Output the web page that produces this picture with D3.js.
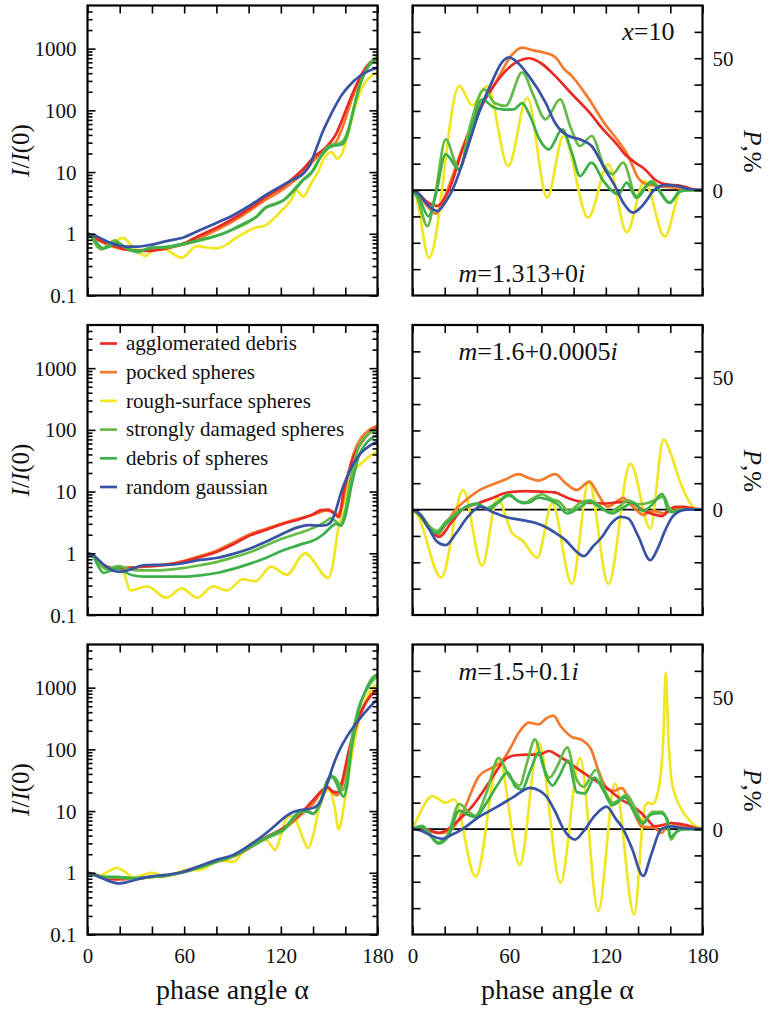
<!DOCTYPE html>
<html>
<head>
<meta charset="utf-8">
<script src="https://cdn.jsdelivr.net/npm/d3@7"></script>
<style>
  html, body { margin: 0; padding: 0; background: #fff; }
  svg { display: block; }
  text { font-family: "Liberation Serif", "Times New Roman", serif; fill: #111; }
</style>
</head>
<body>
<svg id="chart" width="769" height="1010"></svg>
<script>
// ---- data -------------------------------------------------------------
const seriesNames = ["agglomerated debris", "pocked spheres", "rough-surface spheres",
                     "strongly damaged spheres", "debris of spheres", "random gaussian"];
const seriesColors = ["#ec2a24", "#f47a2c", "#f0e624", "#66bb46", "#3eb04a", "#3853a3"];
const angleTicks = [0, 20, 40, 60, 80, 100, 120, 140, 160, 180];
const angleLabels = [0, 60, 120, 180];
const intensityLabels = [0.1, 1, 10, 100, 1000];
const polarizationTicks = [-30, -20, -10, 0, 10, 20, 30, 40, 50, 60];
const polarizationLabels = [0, 50];
const rowLabels = [
  [["m", true], ["=1.313+0", false], ["i", true]],
  [["m", true], ["=1.6+0.0005", false], ["i", true]],
  [["m", true], ["=1.5+0.1", false], ["i", true]]
];

// intensity I/I(0) vs phase angle, series order as in seriesNames
const intensityRow1 = [
  [[0,1],[7,0.8],[14,0.67],[21,0.58],[28.5,0.54],[39,0.53],[49,0.58],[60,0.7],[70,0.95],[80,1.25],[90.5,1.75],[101,2.6],[111,4.0],[121.5,5.9],[132,10],[142,19],[148,25],[154,40],[160,95],[165,200],[170,380],[175,580],[180,700]],
  [[0,1],[7,0.78],[14,0.64],[21,0.57],[28.5,0.54],[39,0.55],[49,0.6],[60,0.67],[70,0.86],[80,1.15],[90.5,1.6],[101,2.4],[111,3.6],[121.5,5.3],[132,8.8],[142,17],[148,24],[154,30],[159,60],[164,150],[170,350],[175,560],[180,650]],
  [[0,1],[4,0.95],[8,0.8],[14,0.7],[22,0.86],[28,0.62],[35.8,0.44],[43,0.59],[49,0.55],[58.5,0.41],[67.8,0.63],[74,0.6],[80,0.58],[86,0.66],[91,0.82],[98,1.05],[104,1.25],[110,1.35],[115,1.7],[120,2.3],[126,3.4],[130,5],[134,4],[138,6],[143,10],[147,17],[151.5,21],[155,16.5],[158,20],[161,35],[165,90],[170,220],[175,340],[180,420]],
  [[0,1],[3,0.85],[6,0.62],[9,0.56],[13,0.68],[17,0.78],[21,0.66],[26,0.55],[31,0.5],[36,0.56],[41,0.6],[47,0.6],[53,0.62],[60,0.68],[68,0.76],[76,0.86],[84,1.0],[91,1.2],[98,1.45],[104,1.8],[110,2.6],[115,2.9],[121,3.4],[127,4.8],[133,7.2],[138,9],[143,15],[148,24],[152,28],[156,29],[159,33],[162,50],[166,130],[170,300],[175,560],[180,760]],
  [[0,1],[3,0.88],[6,0.7],[10,0.58],[14,0.63],[18,0.72],[23,0.62],[28,0.54],[33,0.53],[38,0.58],[44,0.6],[50,0.62],[56,0.66],[63,0.72],[70,0.8],[78,0.9],[86,1.05],[93,1.3],[100,1.6],[106,2.0],[111,2.7],[117,3.1],[123,3.7],[129,5.3],[135,8],[140,10.5],[145,18],[150,25],[154,27],[158,28],[161,38],[165,100],[169,260],[174,500],[180,680]],
  [[0,1],[5,0.93],[10,0.8],[15,0.7],[20,0.64],[25,0.62],[31,0.62],[39,0.66],[49,0.76],[60,0.88],[70,1.15],[80,1.5],[90.5,2.0],[101,2.9],[111,4.3],[121.5,6.2],[128,7.6],[134,9.5],[138,13],[142,24],[146,45],[150,75],[154,120],[158,180],[163,260],[169,360],[175,440],[180,490]]
];
const intensityRow2 = [
  [[0,1],[4,0.9],[8,0.69],[12,0.6],[16,0.57],[22,0.57],[32,0.6],[42,0.63],[50,0.66],[59.5,0.73],[70,0.87],[80,1.05],[90.5,1.4],[101,1.95],[111,2.4],[121.5,3.0],[132,3.6],[140,4.3],[145,5.0],[149.5,5.1],[153,4.4],[156,3.9],[159,10],[162,20],[165,36],[170,62],[175,90],[180,108]],
  [[0,1],[4,0.9],[8,0.7],[12,0.61],[16,0.58],[22,0.58],[32,0.6],[42,0.62],[50,0.66],[59.5,0.75],[70,0.9],[80,1.1],[90.5,1.5],[101,2.05],[111,2.5],[121.5,3.1],[132,3.7],[140,4.2],[144,4.6],[148,4.9],[152,4.8],[155,4.3],[158,6],[161,15],[165,40],[170,75],[175,100],[180,118]],
  [[0,1],[4,0.9],[8,0.73],[12,0.6],[16,0.58],[20,0.62],[23,0.45],[26.5,0.25],[37,0.29],[49,0.19],[58.5,0.27],[68,0.19],[78,0.29],[86.4,0.25],[96.7,0.38],[104,0.35],[114,0.61],[123.6,0.45],[135,1.0],[149.4,0.4],[152,0.6],[155,2],[158,5],[162,13],[166,22],[172,32],[180,45]],
  [[0,1],[4,0.88],[8,0.65],[12,0.55],[16,0.6],[20,0.62],[25,0.56],[30,0.53],[40,0.53],[49,0.54],[60,0.58],[70,0.64],[80,0.72],[90.5,0.86],[101,1.05],[111,1.35],[121.5,1.75],[132,2.15],[142,2.7],[148,3.3],[151,3.7],[154,3.3],[157,2.9],[160,5],[164,20],[168,50],[174,85],[180,100]],
  [[0,1],[4,0.85],[7,0.6],[10,0.48],[14,0.52],[18,0.57],[23,0.5],[28,0.44],[35,0.42],[45,0.42],[59.5,0.42],[70,0.44],[80,0.48],[90.5,0.56],[101,0.68],[111,0.85],[121.5,1.12],[132,1.38],[142,1.7],[147,2.1],[150,2.5],[154,3.0],[157.5,2.8],[160,4],[164,13],[168,35],[174,65],[180,82]],
  [[0,1],[4,0.92],[8,0.73],[12,0.6],[16,0.52],[20,0.5],[24,0.52],[28.5,0.57],[34.7,0.64],[42,0.65],[49,0.65],[59.5,0.69],[70,0.78],[80,0.84],[90.5,0.98],[101,1.2],[111,1.55],[121.5,2.1],[132,2.7],[138,2.85],[144,2.8],[148,2.85],[151,3.2],[154,4.8],[157,9],[161,17],[165,28],[170,43],[175,55],[180,65]]
];
const intensityRow3 = [
  [[0,1],[5,0.92],[10,0.84],[18,0.78],[28.5,0.8],[39,0.85],[49,0.9],[60,1.05],[70,1.27],[80,1.52],[90.5,1.85],[101,2.6],[111,3.8],[121.5,5.3],[132,9],[140,15],[146,22],[149,24],[152,21],[155,20],[158,30],[162,90],[166,220],[171,480],[176,750],[180,900]],
  [[0,1],[5,0.92],[10,0.84],[18,0.8],[28.5,0.8],[39,0.85],[49,0.9],[60,1.04],[70,1.25],[80,1.5],[90.5,1.83],[101,2.55],[111,3.7],[121.5,5.0],[132,8.5],[140,13],[146,22],[149,25],[152,20],[155,18],[158,25],[162,70],[166,200],[171,450],[176,780],[180,950]],
  [[0,1],[4,0.95],[8,0.9],[13,1.05],[18,1.2],[23,1.05],[28.5,0.84],[34,0.92],[40,1.0],[49,0.88],[55,0.98],[61.6,1.12],[67,1.1],[72,1.15],[77,1.4],[81,1.6],[86,1.55],[90.5,1.5],[96,2.1],[101,2.9],[106,3.4],[111,3.4],[116.4,2.35],[120,4],[123.6,7.8],[127,8.3],[130,6.5],[134,3.5],[137,2.5],[140,4],[144,12],[148,21],[150,22],[153,13],[156,5],[158,8],[161,25],[165,110],[170,400],[175,850],[180,1150]],
  [[0,1],[5,0.9],[10,0.85],[18,0.84],[28.5,0.8],[39,0.85],[49,0.9],[60,1.02],[70,1.22],[80,1.5],[90.5,1.85],[101,2.6],[111,3.6],[117,4.2],[121.5,4.8],[127,7],[132,9.5],[136,10.2],[140,9.2],[144,12],[148,25],[151,35],[153,36],[156,28],[158.5,22],[161,35],[164,150],[168,450],[173,900],[177,1300],[180,1500]],
  [[0,1],[5,0.9],[10,0.86],[18,0.86],[28.5,0.82],[39,0.86],[49,0.9],[60,1.03],[70,1.24],[80,1.52],[90.5,1.88],[101,2.65],[111,3.7],[117,4.5],[121.5,5.0],[127,7.4],[132,9.8],[136,9.8],[140,9.0],[144,13],[148,28],[151,38],[154,30],[157,20],[159,17],[161,25],[164,110],[168,400],[173,950],[177,1450],[180,1650]],
  [[0,1],[4,0.95],[8,0.84],[12,0.76],[16,0.7],[19.5,0.67],[24,0.7],[28.5,0.75],[34,0.82],[39,0.87],[49,0.93],[60,1.05],[70,1.3],[80,1.62],[90.5,1.95],[101,2.85],[111,4.4],[117,6],[121.5,7.6],[127,9.5],[132,10.4],[137,10.8],[141,11.5],[145,15],[148,24],[151,42],[154,70],[157,105],[161,160],[165,230],[170,340],[175,480],[180,650]]
];

// degree of linear polarization P, % vs phase angle
const polarizationRow1 = [
  [[0,0],[4,-1.5],[9,-4.5],[15.5,-6],[19,-4],[22.7,0],[31,15.4],[41.3,30],[51,40],[60,46.5],[66,49],[72,50],[80,48],[88.5,43.3],[98,37],[109,30],[119,22.5],[126,18],[132,13.5],[138,10.5],[144,8],[150.4,4],[155,2.5],[160,2],[165,1.8],[170,1],[175,0.2],[180,0]],
  [[0,0],[4,-2],[9,-6],[14.5,-9],[18,-5.5],[21.7,0],[31,16],[41,30.6],[51.6,40.8],[62,51.5],[68,54],[75,53],[82.6,52],[88.8,50.3],[94,46],[98.8,43.3],[109,35],[119.5,25],[127.7,18.6],[133.9,12.9],[140,4.7],[144,2.5],[152.5,1.5],[162.8,0.9],[175,0],[180,0]],
  [[0,0],[2,-2],[10.3,-25.7],[29,39.5],[37,32.2],[46.4,39.5],[59.4,9.1],[71.2,35],[83.6,-2.9],[93.7,20.5],[109,-10.5],[121.5,9.7],[133,-16],[144,3.4],[156.6,-17.7],[167,0],[180,0]],
  [[0,0],[3,-3],[9.3,-13.7],[14,-2],[20.6,19.2],[28.9,7.8],[36,25],[44.4,38.2],[51,33],[57.8,31.9],[68.1,44.6],[75,36],[82.6,26.8],[91.6,34.4],[98,24],[104,16.7],[111.2,20.5],[119,9],[124,6],[130.8,10.4],[139,-2.3],[148.4,3.4],[159.7,-4.8],[166,-0.5],[172,0],[180,0]],
  [[0,0],[4,-3],[10,-10],[14,-3],[20.6,13.5],[28.9,7.8],[36,22],[43.3,34.4],[50,31.5],[57,30.5],[63,30.6],[68,33],[73,28],[79,19],[84.6,15.4],[93,23],[99,14],[104,5.3],[111,10.4],[119,3],[127.7,-1.6],[132.9,2.8],[139,-3],[148,2.8],[159.7,-4.8],[166,-0.5],[172,0],[180,0]],
  [[0,0],[4,-1.5],[10,-6],[15.5,-8],[20,-5],[24.8,0],[32,12],[41.3,29.4],[50,42],[55,48],[59.9,50.3],[65,48.5],[72.2,43.3],[82.6,33.2],[88.5,25.5],[93,22],[97,20.5],[105,19],[111.2,16.7],[119.5,7.8],[125.7,1.5],[131,-5],[137,-8.6],[141,-7],[144,-5],[150,0],[156.6,1.9],[164.9,1.5],[172,0.3],[180,0]]
];
const polarizationRow2 = [
  [[0,0],[5,-2.5],[10,-7],[16.5,-10.4],[24,-5],[31,0],[41.3,2.5],[50,4.5],[56,6],[62,6.7],[70,7],[80,6.8],[88,6.5],[96,4.5],[104,3],[112,2.5],[120,2.3],[128,2.8],[134,3],[138,2],[142.4,0],[148,-1.5],[155,-2.5],[158,-1],[163,1],[168,1],[175,0.3],[180,0]],
  [[0,0],[5,-2],[10,-6],[15.5,-9.7],[20,-6],[26.8,0],[34,4],[41.3,7.3],[51.6,10],[58,11.5],[65.8,13.4],[72,12],[78.2,11],[88.5,13.4],[95,10],[102,7.4],[109.8,10.6],[115,6],[121,1.1],[130.8,4.3],[137,1],[143.2,-2],[149,-0.5],[155.6,-1.4],[162,0.5],[170,0.2],[180,0]],
  [[0,0],[3,-2],[17.8,-25.8],[31.4,7.4],[43.2,-21.3],[52.6,4.2],[62,-9],[68,-11.6],[77.4,-18.2],[86.7,2.3],[98.9,-28.2],[109.4,10.5],[121.6,-28.2],[135.2,17.4],[147.6,-7.2],[155.8,26.5],[161,20],[165,12.4],[170,5],[175.4,0.4],[180,0]],
  [[0,0],[5,-2],[10,-6],[15.5,-8.1],[20,-5],[26.8,-1.5],[33,1],[40,2],[46,0.5],[52,2.5],[59.9,5.8],[65,3.5],[69,2.3],[74,4],[80.5,5.8],[86,4],[91,3],[97,-0.5],[104,2.5],[110,3.5],[116,1.5],[122,-1],[128,1],[134,3.5],[140,2],[146,2.5],[152,4],[156,5],[159,1],[162,-0.5],[167,0],[180,0]],
  [[0,0],[5,-2.5],[10,-7],[15.5,-9],[20,-6],[27,-2],[33,1],[40,2.3],[47,0],[53,2.5],[60,5.4],[66,3],[72,2.5],[78,4.5],[84,3.8],[90,2],[96,-1.5],[103,0.5],[110,3],[117,0.5],[124,-1.5],[130,0.5],[137,2.5],[143,-0.5],[149,2],[155,6],[158.5,0],[161,-1],[165,-0.3],[170,0],[180,0]],
  [[0,0],[5,-2],[10,-7],[15,-12],[20.6,-13.5],[27,-9],[34,-3],[42.1,1.1],[50,-1],[57.8,-2.8],[68,-4],[76,-5],[82.6,-6.6],[89,-9],[95,-11.6],[101,-15.5],[106.3,-17.7],[112,-14],[117.6,-10.4],[123,-5.5],[129,-2.8],[134,-3.4],[140,-10],[147.6,-19.2],[152,-15],[156.9,-7.8],[161,-3],[165,-0.9],[170,0],[180,0]]
];
const polarizationRow3 = [
  [[0,0],[5,0.3],[10,-0.5],[16.5,-1.4],[22,0],[26.8,2.4],[37.2,8.7],[47.5,17.6],[57.8,26.5],[64,28],[72,28.2],[78.4,28.2],[84.6,29.6],[90.8,27.7],[94.7,26.2],[105,21.8],[112,19],[119.5,16.1],[129.8,11.1],[136,9],[142.2,6],[146,3.5],[150.4,1],[155,1.5],[160.7,2.3],[169,1.6],[176,0.4],[180,0]],
  [[0,0],[5,0.5],[10,-0.5],[16.5,-1.6],[23.7,-0.5],[31,6.2],[41.3,20.1],[49.5,23.3],[55.7,25.8],[61,31],[66,36.6],[72.2,40.4],[78.4,39.7],[83,42],[87.5,43],[92,39],[98.8,35],[105,33.8],[111,30],[115.3,22.4],[121.5,14.9],[125,14.5],[129.8,15.5],[136,8.6],[142.2,1],[150.4,0.4],[154.5,-1.5],[159.7,2.3],[164.9,1.6],[172,0.3],[180,0]],
  [[0,0],[3,4],[12.4,12.5],[20.6,10],[25.8,11.3],[39.2,-18.1],[53.7,26.5],[66.5,-13.7],[78.4,32.8],[91.8,-20.4],[104,26.9],[115.3,-31.1],[125.7,17.2],[137.6,-32.4],[144.2,8.6],[146.5,10],[149,9.5],[151.5,12],[153.5,18],[155.5,32],[157.2,59.3],[158.8,35],[160.5,20],[163,13],[166,8.5],[171,4],[176,1],[180,0]],
  [[0,0],[6,1.2],[11,-2],[16,-5],[22,-2],[29,9.5],[34,7],[39,5],[46,14],[53.5,27],[60,20],[66.5,16.5],[71,25],[76,34],[81,24],[85,19.5],[90,24],[96,31],[101,20],[106,16],[114,22.5],[119,15],[124.5,10],[133,13],[138,8],[143,2.5],[149,6.5],[155,6.5],[158,3],[160.5,-4],[164,-1],[168,0],[180,0]],
  [[0,0],[6,0.8],[11,-2.5],[16,-5.5],[22,-3],[29,7],[34,5.5],[39,4.5],[46,10],[53,17],[59,21.5],[64,16],[68,15],[73,22],[78.5,29],[83,20],[87,16.5],[91,20],[96.5,26],[102,14],[107,13.5],[113,19.5],[119,14],[124,9],[132,12],[137,7],[143,2],[148,5.5],[154,6],[158,4],[160,-3],[164,-1],[168,0],[180,0]],
  [[0,0],[5,-0.5],[10,-2],[18.6,-3.7],[25,-2],[31,0],[41,4.5],[51.6,8.1],[62,11.9],[73,15.6],[79,14.5],[83,12.5],[88.5,6.7],[93.7,0],[100.9,-4],[106,-1],[113,5],[120.5,8.5],[126,4],[130.8,0],[136,-7],[143.2,-17.8],[148,-10],[154.5,0],[160.7,1],[168,0.3],[180,0]]
];

const intensityRows = [intensityRow1, intensityRow2, intensityRow3];
const polarizationRows = [polarizationRow1, polarizationRow2, polarizationRow3];

// ---- layout -----------------------------------------------------------
const svg = d3.select("#chart");
const W = 290, H = 290;
const colX = [87.5, 412.5];
const rowY = [5.5, 325, 644.5];
const drawOrder = [2, 1, 0, 3, 4, 5];
const FONT = 21;

const x = d3.scaleLinear().domain([0, 180]).range([0, W]);
const yLog = d3.scaleLog().domain([0.1, 5000]).range([H, 0]);
const yPol = d3.scaleLinear().domain([-40, 70]).range([H, 0]);

function styleAxis(g) {
  g.select(".domain").remove();
  g.selectAll(".tick line").attr("stroke", "#000").attr("stroke-width", 1.6);
  g.selectAll(".tick text").attr("font-size", FONT).attr("font-family", "Liberation Serif, serif").attr("fill", "#111");
}

function xAxes(g, showLabels) {
  g.append("g").attr("transform", `translate(0,${H})`)
    .call(d3.axisBottom(x).tickValues(angleTicks).tickSize(-8).tickPadding(14)
      .tickFormat(d => showLabels && angleLabels.includes(d) ? d : ""))
    .call(styleAxis)
    .call(a => a.selectAll(".tick text").attr("dy", "0.71em"));
  g.append("g")
    .call(d3.axisTop(x).tickValues(angleTicks).tickSize(-8).tickFormat(""))
    .call(styleAxis);
}

function frame(g) {
  g.append("rect").attr("width", W).attr("height", H)
    .attr("fill", "none").attr("stroke", "#000").attr("stroke-width", 2.2);
}

function drawSeries(g, rows, yScale) {
  const line = d3.line()
    .x(d => x(d[0])).y(d => yScale(d[1]))
    .curve(d3.curveMonotoneX);
  drawOrder.forEach(i => {
    g.append("path").datum(rows[i])
      .attr("fill", "none")
      .attr("stroke", seriesColors[i])
      .attr("stroke-width", 2.7)
      .attr("stroke-linejoin", "round")
      .attr("d", line);
  });
}

const minorLog = [];
for (let e = -1; e <= 3; e++) for (let k = 2; k <= 9; k++) {
  const v = k * Math.pow(10, e);
  if (v < 5000) minorLog.push(v);
}

rowY.forEach((top, r) => {
  const last = r === rowY.length - 1;

  // ---- intensity panel
  const gl = svg.append("g").attr("transform", `translate(${colX[0]},${top})`);
  const clipId = "clipL" + r;
  gl.append("clipPath").attr("id", clipId).append("rect").attr("width", W).attr("height", H);
  drawSeries(gl.append("g").attr("clip-path", `url(#${clipId})`), intensityRows[r], yLog);

  gl.append("g").call(d3.axisLeft(yLog).tickValues(intensityLabels).tickSize(-8).tickPadding(11)
      .tickFormat(d => d < 1 ? "0.1" : d3.format("d")(d))).call(styleAxis)
    .call(a => a.selectAll(".tick text").attr("dy", "0.34em"));
  gl.append("g").call(d3.axisLeft(yLog).tickValues(minorLog).tickSize(-5).tickFormat("")).call(styleAxis);
  gl.append("g").attr("transform", `translate(${W},0)`)
    .call(d3.axisRight(yLog).tickValues(intensityLabels).tickSize(-8).tickFormat("")).call(styleAxis);
  gl.append("g").attr("transform", `translate(${W},0)`)
    .call(d3.axisRight(yLog).tickValues(minorLog).tickSize(-5).tickFormat("")).call(styleAxis);
  xAxes(gl, last);
  frame(gl);

  const yl = gl.append("text")
    .attr("transform", `translate(-59,${H / 2}) rotate(-90)`)
    .attr("text-anchor", "middle").attr("font-size", 25);
  yl.append("tspan").attr("font-style", "italic").text("I");
  yl.append("tspan").text("/");
  yl.append("tspan").attr("font-style", "italic").text("I");
  yl.append("tspan").text("(0)");

  // ---- polarization panel
  const gr = svg.append("g").attr("transform", `translate(${colX[1]},${top})`);
  const clipR = "clipR" + r;
  gr.append("clipPath").attr("id", clipR).append("rect").attr("width", W).attr("height", H);
  const inner = gr.append("g").attr("clip-path", `url(#${clipR})`);
  inner.append("line").attr("x1", 0).attr("x2", W)
    .attr("y1", yPol(0)).attr("y2", yPol(0))
    .attr("stroke", "#000").attr("stroke-width", 1.8);
  drawSeries(inner, polarizationRows[r], yPol);

  gr.append("g").call(d3.axisLeft(yPol).tickValues(polarizationTicks).tickSize(-8).tickFormat(""))
    .call(styleAxis);
  gr.append("g").attr("transform", `translate(${W},0)`)
    .call(d3.axisRight(yPol).tickValues(polarizationTicks).tickSize(-8).tickPadding(10)
      .tickFormat(d => polarizationLabels.includes(d) ? d : ""))
    .call(styleAxis)
    .call(a => a.selectAll(".tick text").attr("dy", "0.34em"));
  xAxes(gr, last);
  frame(gr);

  const pl = gr.append("text")
    .attr("transform", `translate(${W + 41},${H / 2 + 1}) rotate(90)`)
    .attr("text-anchor", "middle").attr("font-size", 25);
  pl.append("tspan").attr("font-style", "italic").text("P");
  pl.append("tspan").text(",%");

  // refractive index annotation
  const annY = r === 0 ? 276 : 35;
  const ann = gr.append("text").attr("x", 46).attr("y", annY).attr("font-size", 26);
  rowLabels[r].forEach(([s, it]) => {
    const t = ann.append("tspan").text(s);
    if (it) t.attr("font-style", "italic");
  });

  if (last) {
    [gl, gr].forEach(g => g.append("text")
      .attr("x", W / 2).attr("y", H + 64)
      .attr("text-anchor", "middle").attr("font-size", 28)
      .text("phase angle \u03b1"));
  }
});

// size parameter in the top right panel
const xa = svg.append("text")
  .attr("x", colX[1] + W - 28).attr("y", rowY[0] + 34.5)
  .attr("text-anchor", "end").attr("font-size", 26);
xa.append("tspan").attr("font-style", "italic").text("x");
xa.append("tspan").text("=10");

// legend inside the middle intensity panel
const legend = svg.append("g").attr("transform", `translate(${colX[0]},${rowY[1]})`);
seriesNames.forEach((name, i) => {
  const ly = 18.5 + i * 28.7;
  legend.append("line").attr("x1", 12.5).attr("x2", 29.5).attr("y1", ly).attr("y2", ly)
    .attr("stroke", seriesColors[i]).attr("stroke-width", 2.7);
  legend.append("text").attr("x", 38.5).attr("y", ly).attr("dy", "0.32em")
    .attr("font-size", 21).text(name);
});
</script>
</body>
</html>
